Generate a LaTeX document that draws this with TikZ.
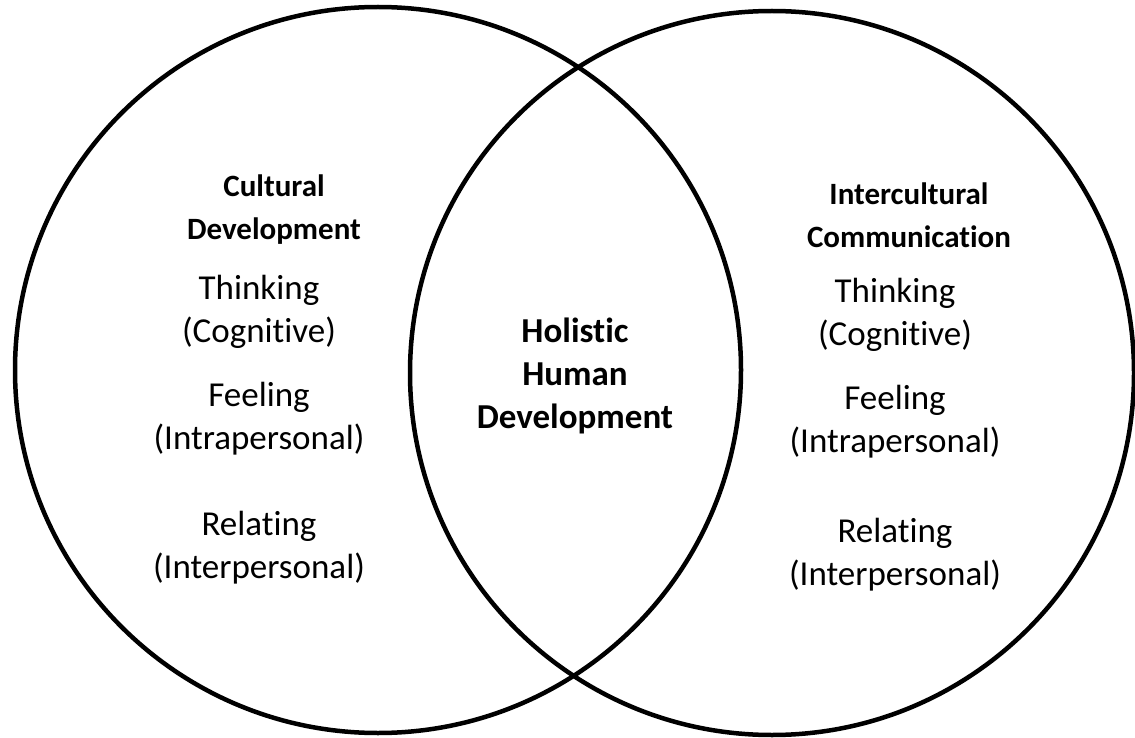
\documentclass[tikz,border=0pt]{standalone}
\usepackage{fontspec}
\setmainfont{Carlito}[Ligatures=NoCommon]
\usepackage{tikz}

\begin{document}
\begin{tikzpicture}[x=1pt, y=-1pt,
    venn/.style={circle, draw, line width=4.5pt, minimum size=#1, inner sep=0pt},
    heading/.style={align=center, font=\fontsize{31}{43}\selectfont\bfseries},
    core/.style={align=center, font=\fontsize{35}{43}\selectfont\bfseries},
    item/.style={align=center, font=\fontsize{35}{43}\selectfont}]
    \useasboundingbox (0,0) rectangle (1135,738);

    % the two overlapping circles
    \node[venn=726pt] (culture) at (378,370) {};
    \node[venn=724pt] (intercult) at (772,373) {};

    % left circle
    \node[heading] (cultdev) at (274,210) {Cultural\\Development};
    \node[item] (lthink) at (259,312) {Thinking\\(Cognitive)};
    \node[item] (lfeel) at (259,419) {Feeling\\(Intrapersonal)};
    \node[item] (lrelate) at (259,548) {Relating\\(Interpersonal)};

    % overlap
    \node[core] (holistic) at (575,376) {Holistic\\Human\\Development};

    % right circle
    \node[heading] (intercomm) at (909,215) {Intercultural\\Communication};
    \node[item] (rthink) at (895,315) {Thinking\\(Cognitive)};
    \node[item] (rfeel) at (895,422) {Feeling\\(Intrapersonal)};
    \node[item] (rrelate) at (895,555) {Relating\\(Interpersonal)};
\end{tikzpicture}
\end{document}
